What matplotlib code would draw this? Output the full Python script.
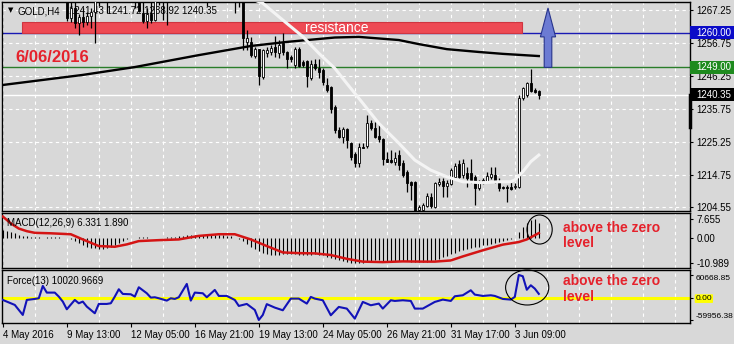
import matplotlib
matplotlib.use("Agg")
import matplotlib.pyplot as plt
from matplotlib.patches import Rectangle, Polygon, Ellipse

plt.rcParams['font.family'] = ['Liberation Sans', 'DejaVu Sans']

#%% Data (GOLD H4)

# time axis labels, one every 16 bars
date_labels = ["4 May 2016", "9 May 13:00", "12 May 05:00", "16 May 21:00",
               "19 May 13:00", "24 May 05:00", "26 May 21:00", "31 May 17:00",
               "3 Jun 09:00"]

opens = [1277, 1278, 1280, 1285, 1287, 1286, 1284, 1283, 1293, 1290,
         1289, 1286, 1283, 1280, 1276, 1274, 1272, 1264.7, 1268.0, 1263.1,
         1265.0, 1263.5, 1265.5, 1266.5, 1272, 1275, 1277, 1278, 1276, 1277,
         1275, 1274, 1273, 1272, 1271, 1266.2, 1263.6, 1266, 1264, 1271,
         1273, 1272, 1271, 1275, 1278, 1281, 1284, 1282, 1283, 1281,
         1278, 1274, 1275, 1277, 1279, 1277, 1276, 1274, 1275, 1274,
         1275, 1257.2, 1257.2, 1252.6, 1254.7, 1246.0, 1253.7, 1254.0, 1255.6, 1253.7,
         1256.6, 1254.0, 1252.4, 1249.8, 1254.7, 1250.8, 1251.0, 1245.5, 1250.1, 1248.7,
         1248.2, 1243.4, 1242.6, 1236.3, 1229.1, 1226.8, 1229.3, 1225.0, 1221.4, 1218.7,
         1223.8, 1224.0, 1231.4, 1229.6, 1227.2, 1226.1, 1219.7, 1219.4, 1219.0, 1221.1,
         1218.5, 1215.8, 1212.6, 1212.6, 1203.6, 1203.6, 1204.9, 1207.9, 1204.7, 1211.9,
         1212.9, 1211.3, 1211.9, 1214.2, 1218.3, 1214.8, 1215.3, 1215.3, 1214.0, 1210.5,
         1212.3, 1212.6, 1214.0, 1214.8, 1212.6, 1211.0, 1210.8, 1211.0, 1210.8, 1211.0,
         1239.1, 1240.2, 1243.9, 1241.8, 1241.43]
highs = [1280, 1282, 1286, 1289, 1291, 1288, 1287, 1296, 1295, 1292,
         1291, 1288, 1285, 1282, 1279, 1276, 1274, 1270.5, 1270.0, 1266.0,
         1268.0, 1266.5, 1268.0, 1273.0, 1276, 1279, 1280, 1281, 1279, 1280,
         1278, 1277, 1276, 1274, 1274, 1271, 1268, 1270.5, 1272, 1275,
         1276, 1274, 1276, 1279, 1283, 1286, 1288, 1285, 1287, 1284,
         1281, 1277, 1278, 1281, 1282, 1280, 1279, 1277, 1277, 1276,
         1277, 1260.9, 1258.8, 1255.6, 1255.0, 1255.0, 1255.6, 1256.0, 1259.0, 1257.7,
         1259.8, 1254.3, 1252.9, 1255.6, 1255.6, 1251.3, 1251.3, 1251.3, 1251.6, 1251.6,
         1248.7, 1245.5, 1243.1, 1237.0, 1230.1, 1230.1, 1229.6, 1225.4, 1222.2, 1224.8,
         1224.8, 1233.8, 1232.3, 1231.7, 1231.2, 1226.4, 1222.2, 1222.7, 1222.2, 1222.7,
         1219.5, 1216.3, 1212.9, 1212.9, 1205.2, 1205.7, 1208.9, 1208.9, 1212.6, 1213.7,
         1213.7, 1213.2, 1216.9, 1218.5, 1219.5, 1220.0, 1217.4, 1220.0, 1214.8, 1213.2,
         1213.7, 1215.8, 1217.2, 1217.2, 1213.7, 1211.3, 1211.6, 1212.6, 1212.1, 1240.2,
         1242.9, 1244.5, 1248.4, 1242.3, 1241.72]
lows = [1274, 1276, 1279, 1283, 1284, 1282, 1281, 1281, 1288, 1287,
        1284, 1281, 1278, 1274, 1272, 1271, 1263.8, 1263.4, 1261.5, 1259.3,
        1261.8, 1262.5, 1261.5, 1256.7, 1268.5, 1270.5, 1266.3, 1274, 1272, 1273,
        1271.5, 1271, 1270.5, 1267.9, 1266.5, 1263.1, 1261.5, 1263.1, 1263.8, 1269,
        1264, 1262.5, 1270.5, 1273, 1276, 1279, 1281, 1279, 1280, 1276,
        1272, 1268.5, 1270, 1274, 1275, 1273, 1272, 1271, 1266.3, 1268.2,
        1254.5, 1254.5, 1252.4, 1251.9, 1243.4, 1245.2, 1252.4, 1253.0, 1252.4, 1251.9,
        1252.9, 1248.7, 1250.8, 1248.7, 1249.2, 1249.2, 1242.9, 1245.0, 1248.2, 1245.5,
        1243.4, 1241.3, 1234.4, 1228.0, 1226.4, 1224.8, 1223.2, 1219.5, 1217.4, 1217.4,
        1223.2, 1223.2, 1229.1, 1226.4, 1225.4, 1217.9, 1218.8, 1218.5, 1217.9, 1216.3,
        1214.2, 1209.5, 1206.8, 1201.0, 1203.0, 1203.0, 1204.7, 1204.1, 1204.1, 1211.3,
        1207.9, 1207.9, 1211.6, 1214.0, 1213.7, 1213.7, 1211.0, 1212.1, 1205.2, 1210.0,
        1211.9, 1212.1, 1213.5, 1212.1, 1209.8, 1210.2, 1206.3, 1210.0, 1210.2, 1210.5,
        1238.6, 1239.5, 1241.3, 1240.7, 1238.92]
closes = [1278, 1280, 1285, 1287, 1286, 1284, 1283, 1293, 1290, 1289,
          1286, 1283, 1280, 1276, 1274, 1272, 1264.7, 1268.0, 1263.1, 1265.0,
          1263.5, 1265.5, 1266.5, 1272.0, 1275, 1277, 1278, 1276, 1277, 1275,
          1274, 1273, 1272, 1271, 1267, 1263.6, 1266, 1264, 1271, 1273,
          1272, 1271, 1275, 1278, 1281, 1284, 1282, 1283, 1281, 1278,
          1274, 1275, 1277, 1279, 1277, 1276, 1274, 1275, 1274, 1275,
          1258.3, 1258.2, 1252.9, 1254.7, 1246.3, 1254.5, 1254.5, 1255.3, 1254.0, 1256.1,
          1254.0, 1251.6, 1251.8, 1254.7, 1249.4, 1249.8, 1246.3, 1250.1, 1248.7, 1247.6,
          1244.5, 1241.8, 1235.6, 1229.1, 1227.0, 1229.3, 1225.9, 1220.6, 1218.5, 1223.8,
          1223.4, 1231.2, 1229.6, 1227.0, 1226.1, 1219.7, 1219.0, 1219.0, 1220.1, 1217.9,
          1214.8, 1212.1, 1211.6, 1203.4, 1204.7, 1205.2, 1208.1, 1204.9, 1212.1, 1212.6,
          1211.3, 1212.3, 1216.3, 1217.6, 1214.2, 1218.5, 1213.7, 1213.2, 1210.5, 1212.6,
          1213.2, 1214.4, 1215.0, 1212.6, 1210.5, 1210.5, 1210.5, 1210.3, 1211.3, 1239.1,
          1242.3, 1243.9, 1241.6, 1241.3, 1240.35]

# slow (black) and fast (white) moving averages, read at a few bars
ma_slow_bar = [0, 20, 33, 49, 62, 71, 83, 89, 99, 104, 111, 119, 125, 134]
ma_slow_val = [1243.4, 1246.6, 1249.1, 1252.9, 1255.8, 1257.1, 1258.5, 1258.7,
               1257.7, 1256.4, 1254.8, 1253.9, 1253.3, 1252.6]
ma_fast_bar = [63, 65, 71, 75, 79, 83, 86, 90, 94, 99, 103, 107, 111, 115,
               120, 124, 127, 128, 130, 132, 134]
ma_fast_val = [1270.4, 1269.4, 1263.0, 1258.8, 1253.5, 1248.7, 1243.9, 1237.6,
               1231.2, 1224.9, 1219.5, 1216.3, 1214.2, 1212.6, 1212.3, 1212.6,
               1212.6, 1213.2, 1215.8, 1219.0, 1221.1]

# MACD(12,26,9): main line as histogram, one value per bar
macd_main = [3.4, 2.8, 2.3, 1.8, 1.2, 0.8, 0.5,
             0.3, 0.2, 0.1, 0.0, 0.1, 0.2, 0.2, 0.1, 0.0, -0.3,
             -0.8, -1.5, -2.3, -3.1, -3.8, -4.3, -4.6, -5.0, -4.9, -4.3, -3.8, -3.1, -2.3, -1.5, -0.8,
             -0.4, -0.2, 0.1, 0.2, 0.1, -0.1, -0.2, -0.1, 0.0, 0.2, 0.3, 0.4, 0.5,
             0.8, 1.0, 1.1, 1.2, 1.2, 1.1, 1.0, 1.0, 1.1, 1.1, 1.0, 0.8, 0.5,
             -0.3, -0.8, -1.5, -2.8, -3.8, -4.9, -5.8, -6.4, -6.9, -7.2, -7.3, -7.2, -7.0, -6.9,
             -7.0, -7.1, -7.2, -7.3, -7.4, -7.5,
             -7.0, -7.3, -7.6, -8.2, -8.8, -9.2, -9.7, -10.1, -10.5, -10.8,
             -10.989, -10.9, -10.7, -10.2, -9.9, -9.7, -9.7, -9.9, -10.0, -10.1,
             -10.1, -10.0, -10.0, -10.1, -10.2, -10.5, -10.5, -10.4, -10.2, -10.0,
             -9.4, -8.9, -8.4, -7.8, -7.1, -6.4, -5.9, -5.4, -4.9, -4.4,
             -4.1, -3.8, -3.3, -3.0, -2.6, -2.1, -1.8, -1.3, -1.0, -0.5, -0.3,
             2.3, 4.3, 6.1, 7.3, 7.655, 6.331]
signal_bar = [0, 2, 4, 6, 8, 12, 17, 20, 24, 28, 31, 34, 39, 44, 49, 54, 58, 62,
              66, 70, 74, 78, 82, 86, 90, 95, 100, 105, 108, 112, 115, 120, 125,
              129, 131, 134]
signal_val = [8.9, 6.0, 3.8, 2.7, 2.0, 1.8, 1.4, -0.8, -3.6, -3.9, -2.9, -1.5,
              -1.1, -0.8, 0.7, 1.4, 1.4, -0.8, -3.6, -6.3, -6.6, -6.7, -7.4, -9.0,
              -10.2, -10.4, -10.1, -10.2, -10.2, -9.7, -8.0, -5.4, -3.0, -1.9,
              -0.8, 1.89]

# Force(13)
force_bar = [0, 3, 5, 6, 8, 9, 10, 11, 13, 14, 15, 16, 18, 19, 20, 21, 23, 24,
             26, 27, 28, 29, 30, 32, 33, 34, 36, 37, 38, 39, 41, 42, 43, 44, 46,
             47, 48, 50, 51, 53, 54, 56, 58, 59, 61, 63, 64, 65, 66, 68, 70, 72,
             74, 76, 77, 78, 80, 82, 84, 86, 88, 90, 92, 94, 95, 97, 98, 100,
             102, 103, 105, 108, 110, 112, 113, 115, 117, 118, 120, 122, 123,
             125, 127, 128, 129, 130, 131, 132, 133, 134]
force_val = [-6260, -19660, -46480, -6260, -3580, -1790, 31280, 13410, 13410,
             2680, -10730, -31280, -6260, -15200, -10730, -24130, -42010, -16980,
             -16980, -15200, 2680, 22350, 9830, 8940, 2680, 27710, 11620, 0, 890,
             -1790, -8040, -1790, -3580, 890, 36650, -8040, 13410, 11620, 890,
             20560, 4470, 4470, -6260, -22350, -16980, -33070, -59956.38, -46480,
             -17520, -26790, -33950, -2680, -2680, -16070, 1790, -2680, -7140,
             -47330, -25000, -29470, -56260, -11610, -20540, -16070, -29470,
             -7140, -8930, -7140, -8930, -29470, -29470, -11610, -5360, -8930,
             3570, 6250, 19650, 8040, 4470, 6250, 4470, -3570, -5360, 1790,
             60668.85, 57150, 21000, 33040, 24100, 10020.97]

# levels drawn on the chart
resistance_lo, resistance_hi = 1259.8, 1263.3
resistance_from, resistance_to = 4.8, 129.8
level_blue, level_green, last_price = 1260.00, 1249.00, 1240.35
arrow_bar, arrow_base, arrow_neck, arrow_tip = 136.3, 1249.0, 1258.7, 1267.9

price_ticks = [1267.25, 1256.75, 1246.25, 1235.75, 1225.25, 1214.75, 1204.55]

#%% Figure
W, H = 734, 344
BG = '#d8d8d8'
RED_TXT = '#e5222c'

fig = plt.figure(figsize=(W / 100, H / 100), dpi=100, facecolor=BG)


def box(x0, y0, x1, y1):
    # pixel box, origin top left -> figure fraction
    return [x0 / W, 1 - y1 / H, (x1 - x0) / W, (y1 - y0) / H]


def fxy(x, y):
    return x / W, 1 - y / H


ax = fig.add_axes(box(2, 2, 690, 211), facecolor=BG)
axm = fig.add_axes(box(2, 213, 690, 268), facecolor=BG)
axf = fig.add_axes(box(2, 270, 690, 323), facecolor=BG)

n = len(closes)
bars = list(range(n))

for a in (ax, axm, axf):
    a.set_xlim(-0.2, 171.8)
    # dashed grid every 8 bars
    a.set_xticks(list(range(0, 172, 8)), minor=True)
    a.grid(True, which='minor', axis='x', color='white', ls=(0, (3, 3)), lw=0.8)
    a.set_axisbelow(True)
    a.yaxis.tick_right()
    for s in a.spines.values():
        s.set_color('black')
        s.set_linewidth(1)
    a.tick_params(which='minor', length=0)
    a.tick_params(axis='y', length=2.5, pad=2.3, labelsize=7, colors='black')

ax.set_xticks([])
axm.set_xticks([])
ax.set_ylim(1203.3, 1269.8)
axm.set_ylim(-12.9, 10.4)
axf.set_ylim(-68070, 73970)

# main price panel
ax.set_yticks(price_ticks)
ax.set_yticklabels(['%.2f' % p for p in price_ticks])
ax.grid(True, axis='y', color='white', ls=(0, (3, 3)), lw=0.8)

ax.axhline(level_blue, color='#1a1ab4', lw=1, zorder=1.5)
ax.axhline(level_green, color='#2a7d2a', lw=1, zorder=1.5)
ax.axhline(last_price, color='white', lw=1, zorder=1.5)

ax.add_patch(Rectangle((resistance_from, resistance_lo), resistance_to - resistance_from,
                       resistance_hi - resistance_lo, fc='#ee4a54', ec='#cf3540',
                       lw=0.8, zorder=2))

# candles
ax.vlines(bars, lows, highs, color='black', lw=0.9, zorder=3)
body_lo = [min(o, c) for o, c in zip(opens, closes)]
body_h = [max(abs(c - o), 0.18) for o, c in zip(opens, closes)]
body_col = ['white' if c > o else 'black' for o, c in zip(opens, closes)]
ax.bar(bars, body_h, bottom=body_lo, width=0.6, color=body_col,
       edgecolor='black', linewidth=0.6, zorder=4)

ax.plot(ma_slow_bar, ma_slow_val, color='black', lw=1.7, zorder=5)
ax.plot(ma_fast_bar, ma_fast_val, color='#f4f4f4', lw=2.2, zorder=5)

ax.add_patch(Polygon([(arrow_bar - 0.95, arrow_base), (arrow_bar - 0.95, arrow_neck),
                      (arrow_bar - 1.9, arrow_neck), (arrow_bar, arrow_tip),
                      (arrow_bar + 1.9, arrow_neck), (arrow_bar + 0.95, arrow_neck),
                      (arrow_bar + 0.95, arrow_base)],
                     closed=True, fc='#6c7bd3', ec='#27348c', lw=0.8, zorder=6,
                     clip_on=False))

ax.text(*fxy(305, 31.7), 'resistance', transform=fig.transFigure, color='white',
        fontsize=10, va='baseline', zorder=6)
ax.text(*fxy(15, 61.7), '6/06/2016', transform=fig.transFigure, color=RED_TXT,
        fontsize=12, fontweight='bold', va='baseline', zorder=6)

# header, under the candles
ax.text(*fxy(8, 10.5), '\u25bc', transform=fig.transFigure, fontsize=5,
        va='center', family='DejaVu Sans', zorder=1)
ax.text(*fxy(18, 14), 'GOLD,H4', transform=fig.transFigure, fontsize=7,
        va='baseline', zorder=1)
ax.text(*fxy(69, 14), '1241.43 1241.72 1238.92 1240.35', transform=fig.transFigure,
        fontsize=7, va='baseline', zorder=1)

# price boxes on the right scale
ytr = ax.get_yaxis_transform()
for val, col in ((level_blue, '#0b0bc8'), (level_green, '#1e8a1e'), (last_price, 'black')):
    ax.add_patch(Rectangle((1.0, val - 2.1), 0.07, 4.2, transform=ytr, fc=col,
                           ec='none', clip_on=False, zorder=8))
    ax.annotate('%.2f' % val, xy=(1, val), xycoords=ytr, xytext=(4.8, 0),
                textcoords='offset points', fontsize=7, color='white',
                va='center', ha='left', annotation_clip=False, zorder=9)
ax.plot([1, 1], [last_price - 10.3, last_price], transform=ytr,
        color='black', lw=2.5, clip_on=False, zorder=7)

# MACD panel
axm.vlines(bars, 0, macd_main, color='black', lw=0.8, zorder=3)
axm.plot(signal_bar, signal_val, color='#d41414', lw=1.8, zorder=4)
axm.set_yticks([7.655, 0, -10.989])
axm.set_yticklabels(['7.655', '0.00', '-10.989'])
axm.add_patch(Ellipse((134.2, 3.4), 6.3, 12.3, fill=False, ec='black', lw=0.8,
                      zorder=5, clip_on=False))
fig.text(*fxy(7, 226), 'MACD(12,26,9) 6.331 1.890', fontsize=7, va='baseline')

# Force panel
axf.axhline(0, color='#ffff00', lw=2.2, zorder=2)
axf.plot(force_bar, force_val, color='#1212b8', lw=1.5, zorder=3)
axf.set_yticks([60668.85, 0, -59956.38])
lbl = axf.set_yticklabels(['60668.85', '0.00', '-59956.38'], fontsize=6)
axf.tick_params(axis='y', pad=1.5)
lbl[0].set_va('top')
lbl[2].set_va('bottom')
lbl[1].set_bbox(dict(boxstyle='round,pad=0.1', fc='#ffff00', ec='none'))
axf.add_patch(Ellipse((131.1, 27070), 10.8, 93800, fill=False, ec='black', lw=0.8,
                      zorder=5, clip_on=False))
fig.text(*fxy(7, 284), 'Force(13) 10020.9669', fontsize=7, va='baseline')

axf.set_xticks(list(range(0, 16 * len(date_labels), 16)))
axf.set_xticklabels(date_labels, ha='left')
axf.tick_params(axis='x', which='major', length=3, pad=2, labelsize=7)

# comments written on the chart
for y0, y1 in ((231.7, 246.7), (285, 300.7)):
    fig.text(*fxy(563, y0), 'above the zero', color=RED_TXT, fontsize=10,
             fontweight='bold', va='baseline')
    fig.text(*fxy(563, y1), 'level', color=RED_TXT, fontsize=10,
             fontweight='bold', va='baseline')

fig.savefig('out.png', dpi=100, facecolor=BG)
